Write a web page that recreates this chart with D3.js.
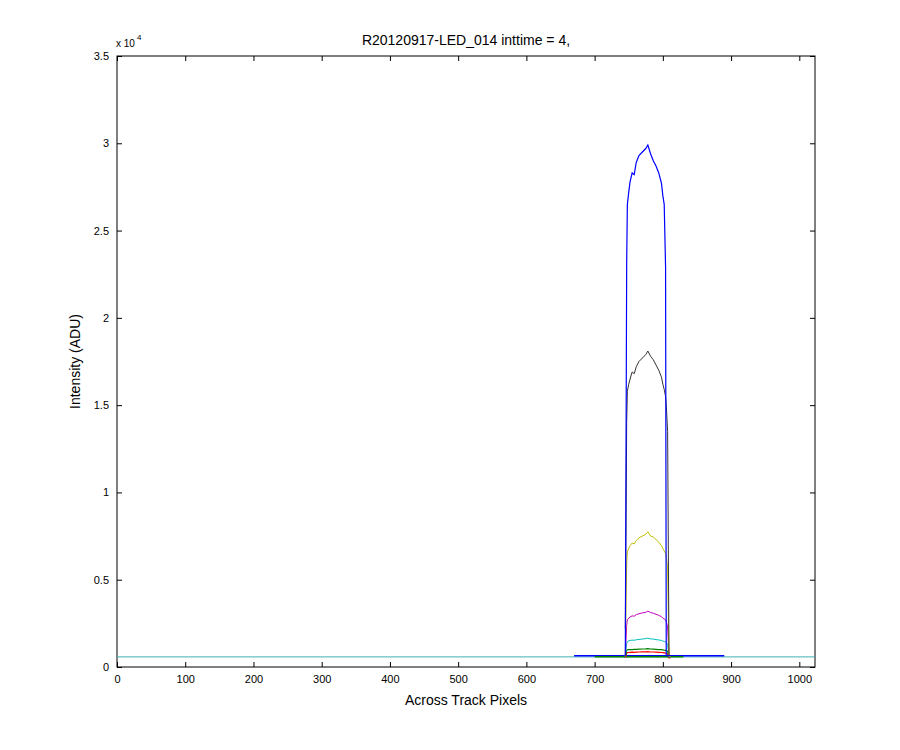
<!DOCTYPE html>
<html><head><meta charset="utf-8">
<script src="https://cdn.jsdelivr.net/npm/d3@7"></script>
<style>body{margin:0;background:#fff}text{font-family:"Liberation Sans",Arial,sans-serif}</style>
</head><body><svg id="c" width="900" height="750"></svg>
<script>
const title = "R20120917-LED_014 inttime = 4,";
const xTicks = [0,100,200,300,400,500,600,700,800,900,1000];
const yTicks = [0,5000,10000,15000,20000,25000,30000,35000];
const yTickLabels = ["0","0.5","1","1.5","2","2.5","3","3.5"];
const px = [745,747,748,750,752,755,758,761,765,770,775,778,782,786,790,794,798,800,802,804,805,807,809,811];
const blue = [650,23200,26500,27200,27800,28300,28200,28900,29300,29500,29700,29900,29400,29000,28700,28300,27700,27000,26500,22900,650,650,650,650];
const black = [2200,14000,15800,16200,16500,16900,16800,17200,17500,17700,17900,18100,17800,17600,17300,17000,16600,16200,15900,15500,15000,13500,700,650];
const yellow = [620,5900,6600,6800,6950,7100,7050,7250,7400,7500,7600,7750,7500,7450,7300,7150,6950,6800,6650,6500,6300,5700,620,600];
const magenta = [600,2400,2700,2800,2870,2930,2910,3000,3050,3100,3130,3200,3120,3080,3020,2960,2880,2800,2750,2700,2600,2300,600,580];
const cyan = [590,1350,1450,1500,1520,1540,1530,1560,1580,1600,1630,1650,1610,1600,1570,1550,1520,1490,1460,1440,1400,1300,590,580];
const green = [570,950,980,990,1000,1000,1010,1010,1020,1030,1040,1050,1030,1020,1010,1000,990,980,960,950,940,900,570,570];
const red = [520,800,820,830,840,850,840,850,860,870,870,880,860,860,850,840,830,820,810,800,790,750,520,520];
const baseX = [0,1023];
const baseVal = [580,580];
const blueWingX = [670,740,815,890];
const blueWingVal = [640,650,650,640];
const greenWingX = [700,740,815,830];
const greenWingVal = [590,590,590,590];

const svg = d3.select("#c");
const m = {l:117,r:815,t:56,b:667};
const x = d3.scaleLinear().domain([0,1023]).range([m.l,m.r]);
const y = d3.scaleLinear().domain([0,35000]).range([m.b,m.t]);
svg.append("rect").attr("x",m.l).attr("y",m.t).attr("width",m.r-m.l).attr("height",m.b-m.t).attr("fill","#fff").attr("stroke","#000");
const line = d3.line().x(d=>x(d[0])).y(d=>y(d[1]));
function draw(xs, vs, col, w){
  svg.append("path").attr("d",line(xs.map((v,i)=>[v,vs[i]]))).attr("fill","none").attr("stroke",col).attr("stroke-width",w||1);
}
draw(baseX, baseVal, "#3fb0b0");
draw(blueWingX, blueWingVal, "#0000ff", 1.5);
draw(greenWingX, greenWingVal, "#008000", 1.5);
draw(px, red, "#ff0000", 1.2);
draw(px, green, "#008000", 1.2);
draw(px, cyan, "#00bfbf");
draw(px, magenta, "#bf00bf");
draw(px, yellow, "#bfbf00");
draw(px, black, "#333333");
draw(px, blue, "#0000ff", 1.2);

svg.append("g").attr("transform",`translate(0,${m.b})`).call(d3.axisBottom(x).tickValues(xTicks).tickFormat(d3.format("d")).tickSizeInner(-5).tickSizeOuter(0).tickPadding(8));
svg.append("g").attr("transform",`translate(0,${m.t})`).call(d3.axisTop(x).tickValues(xTicks).tickSizeInner(-5).tickSizeOuter(0).tickFormat(""));
svg.append("g").attr("transform",`translate(${m.l},0)`).call(d3.axisLeft(y).tickValues(yTicks).tickFormat((d,i)=>yTickLabels[i]).tickSizeInner(-5).tickSizeOuter(0).tickPadding(8));
svg.append("g").attr("transform",`translate(${m.r},0)`).call(d3.axisRight(y).tickValues(yTicks).tickSizeInner(-5).tickSizeOuter(0).tickFormat(""));
svg.selectAll(".domain").remove();
svg.selectAll(".tick text").attr("font-size",11).attr("fill","#000").style("font-family","Liberation Sans, Arial, sans-serif");
svg.selectAll(".tick line").attr("stroke","#000");
svg.append("text").attr("x",116).attr("y",47).attr("font-size",10).text("x 10");
svg.append("text").attr("x",137).attr("y",40).attr("font-size",8).text("4");
svg.append("text").attr("x",(m.l+m.r)/2).attr("y",45).attr("text-anchor","middle").attr("font-size",14).text(title);
svg.append("text").attr("x",(m.l+m.r)/2).attr("y",705).attr("text-anchor","middle").attr("font-size",14).text("Across Track Pixels");
svg.append("text").attr("transform",`translate(80,${(m.t+m.b)/2}) rotate(-90)`).attr("text-anchor","middle").attr("font-size",14).text("Intensity (ADU)");
</script></body></html>
